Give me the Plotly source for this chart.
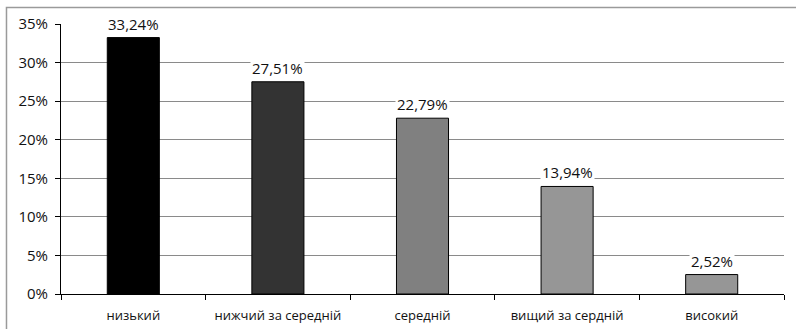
import plotly.graph_objects as go

categories = ["низький", "нижчий за середній", "середній", "вищий за сердній", "високий"]
shares = [33.24, 27.51, 22.79, 13.94, 2.52]
bar_colors = ["#000000", "#333333", "#808080", "#969696", "#969696"]
y_ticks = [0, 5, 10, 15, 20, 25, 30, 35]
y_tick_text = [f"{t}%" for t in y_ticks]

FONT = "Open Sans"

fig = go.Figure()
fig.add_trace(go.Bar(
    x=categories,
    y=shares,
    width=0.36,
    marker=dict(color=bar_colors, line=dict(color="#000000", width=1)),
    hoverinfo="skip",
))

# value labels on a white box so gridlines break around them
for cat, v in zip(categories, shares):
    fig.add_annotation(
        x=cat, y=v, text=f"{v:.2f}".replace(".", ",") + "%",
        showarrow=False, yanchor="bottom", yshift=2,
        bgcolor="#ffffff", borderpad=1,
        font=dict(family=FONT, size=15, color="#111111"),
    )

# outer chart frame
fig.add_shape(type="rect", xref="paper", yref="paper",
              x0=-0.0754, x1=1.5, y0=-0.5, y1=1.061,
              line=dict(color="#9a9a9a", width=1.5), layer="below")

fig.update_layout(
    width=796, height=329,
    margin=dict(l=61, r=12, t=24, b=35),
    paper_bgcolor="#ffffff", plot_bgcolor="#ffffff",
    showlegend=False,
    font=dict(family=FONT, color="#111111"),
)
fig.update_xaxes(
    type="category", tickson="boundaries", ticks="outside", ticklen=5,
    tickcolor="#000000", showline=True, linecolor="#000000", linewidth=1,
    showgrid=False, tickfont=dict(family=FONT, size=13), range=[-0.5, 4.5],
    ticklabelstandoff=9, automargin=False,
)
fig.update_yaxes(
    range=[0, 35], tickvals=y_ticks, ticktext=y_tick_text,
    ticks="outside", ticklen=5,
    tickcolor="#000000", showline=True, linecolor="#000000", linewidth=1,
    showgrid=True, gridcolor="#8a8a8a", gridwidth=1, zeroline=False,
    tickfont=dict(family=FONT, size=15), ticklabelstandoff=4, automargin=False,
)

fig.write_html("out.html")
